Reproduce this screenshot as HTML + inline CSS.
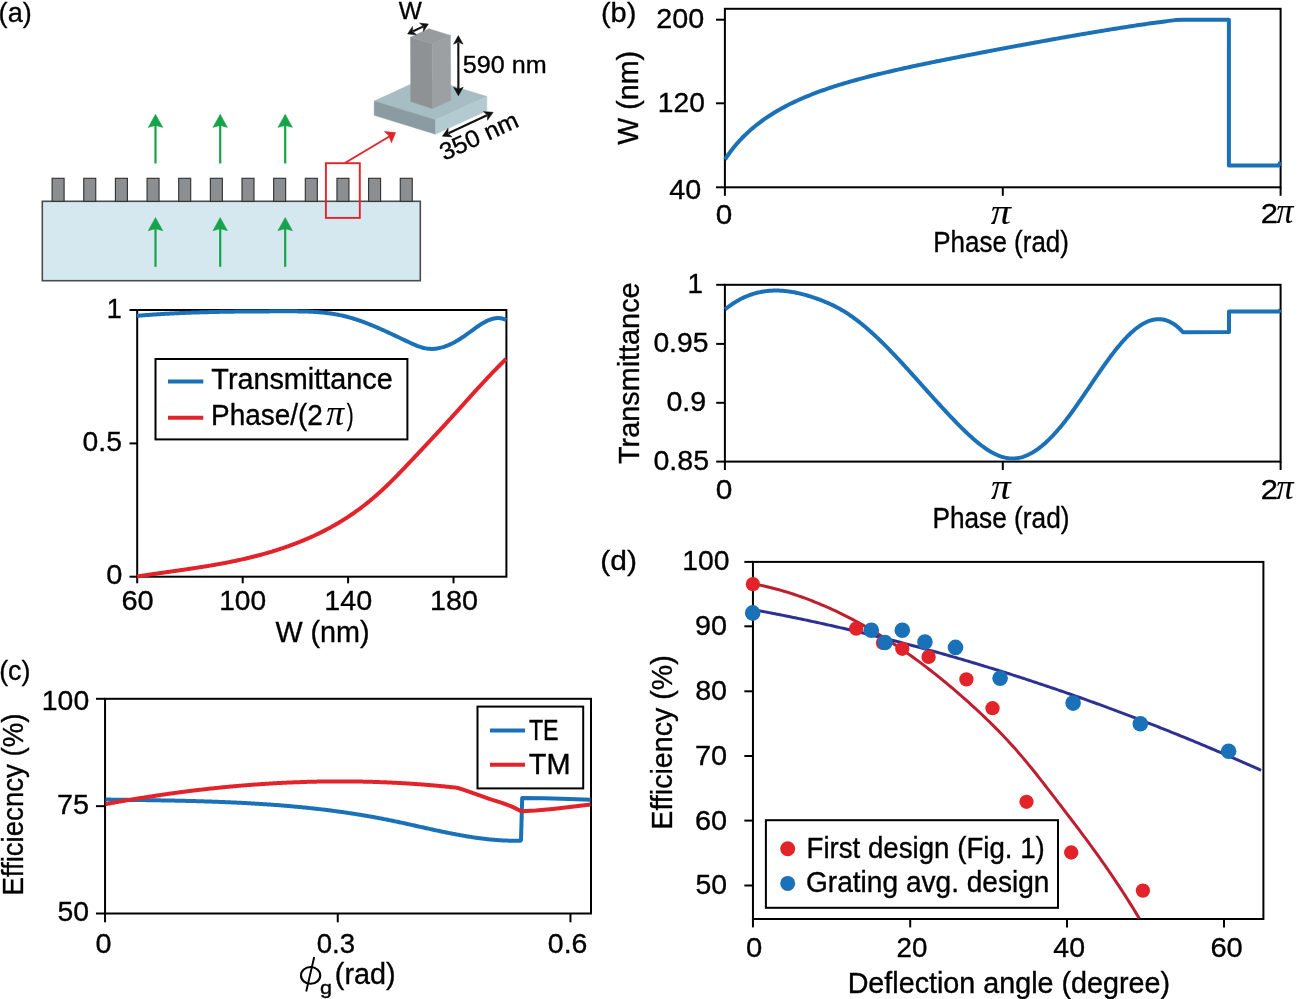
<!DOCTYPE html>
<html><head><meta charset="utf-8"><style>
html,body{margin:0;padding:0;background:#fff;}
svg{display:block;}
text{font-family:"Liberation Sans", sans-serif;stroke:#000;stroke-width:0.35px;}
svg{will-change:transform;}
</style></head><body>
<svg width="1298" height="999" viewBox="0 0 1298 999">
<rect width="1298" height="999" fill="#fff"/>
<text x="-1.38" y="22.20" font-size="28.5" textLength="33.06" lengthAdjust="spacingAndGlyphs" fill="#000">(a)</text>
<text x="600.90" y="22.00" font-size="28.5" textLength="35.40" lengthAdjust="spacingAndGlyphs" fill="#000">(b)</text>
<text x="-0.87" y="680.10" font-size="28.5" textLength="31.33" lengthAdjust="spacingAndGlyphs" fill="#000">(c)</text>
<text x="600.34" y="569.70" font-size="28.5" textLength="36.62" lengthAdjust="spacingAndGlyphs" fill="#000">(d)</text>
<rect x="42.3" y="201.3" width="378" height="79.4" fill="#d5e8ef" stroke="#4a4d4f" stroke-width="1.6"/>
<rect x="52.10" y="178.3" width="12" height="23" fill="#8b8f92" stroke="#2d2f30" stroke-width="1.1"/>
<rect x="83.75" y="178.3" width="12" height="23" fill="#8b8f92" stroke="#2d2f30" stroke-width="1.1"/>
<rect x="115.40" y="178.3" width="12" height="23" fill="#8b8f92" stroke="#2d2f30" stroke-width="1.1"/>
<rect x="147.05" y="178.3" width="12" height="23" fill="#8b8f92" stroke="#2d2f30" stroke-width="1.1"/>
<rect x="178.70" y="178.3" width="12" height="23" fill="#8b8f92" stroke="#2d2f30" stroke-width="1.1"/>
<rect x="210.35" y="178.3" width="12" height="23" fill="#8b8f92" stroke="#2d2f30" stroke-width="1.1"/>
<rect x="242.00" y="178.3" width="12" height="23" fill="#8b8f92" stroke="#2d2f30" stroke-width="1.1"/>
<rect x="273.65" y="178.3" width="12" height="23" fill="#8b8f92" stroke="#2d2f30" stroke-width="1.1"/>
<rect x="305.30" y="178.3" width="12" height="23" fill="#8b8f92" stroke="#2d2f30" stroke-width="1.1"/>
<rect x="336.95" y="178.3" width="12" height="23" fill="#8b8f92" stroke="#2d2f30" stroke-width="1.1"/>
<rect x="368.60" y="178.3" width="12" height="23" fill="#8b8f92" stroke="#2d2f30" stroke-width="1.1"/>
<rect x="400.25" y="178.3" width="12" height="23" fill="#8b8f92" stroke="#2d2f30" stroke-width="1.1"/>
<line x1="155.5" y1="122.2" x2="155.5" y2="163.5" stroke="#17a34a" stroke-width="2.2" stroke-linecap="butt"/>
<polygon points="155.50,114.20 162.80,127.40 155.50,125.40 148.20,127.40" fill="#17a34a" stroke="#17a34a" stroke-width="0.5" stroke-linejoin="round"/>
<line x1="155.5" y1="225.5" x2="155.5" y2="266.8" stroke="#17a34a" stroke-width="2.2" stroke-linecap="butt"/>
<polygon points="155.50,217.50 162.80,230.70 155.50,228.70 148.20,230.70" fill="#17a34a" stroke="#17a34a" stroke-width="0.5" stroke-linejoin="round"/>
<line x1="220.2" y1="122.2" x2="220.2" y2="163.5" stroke="#17a34a" stroke-width="2.2" stroke-linecap="butt"/>
<polygon points="220.20,114.20 227.50,127.40 220.20,125.40 212.90,127.40" fill="#17a34a" stroke="#17a34a" stroke-width="0.5" stroke-linejoin="round"/>
<line x1="220.2" y1="225.5" x2="220.2" y2="266.8" stroke="#17a34a" stroke-width="2.2" stroke-linecap="butt"/>
<polygon points="220.20,217.50 227.50,230.70 220.20,228.70 212.90,230.70" fill="#17a34a" stroke="#17a34a" stroke-width="0.5" stroke-linejoin="round"/>
<line x1="285.2" y1="122.2" x2="285.2" y2="163.5" stroke="#17a34a" stroke-width="2.2" stroke-linecap="butt"/>
<polygon points="285.20,114.20 292.50,127.40 285.20,125.40 277.90,127.40" fill="#17a34a" stroke="#17a34a" stroke-width="0.5" stroke-linejoin="round"/>
<line x1="285.2" y1="225.5" x2="285.2" y2="266.8" stroke="#17a34a" stroke-width="2.2" stroke-linecap="butt"/>
<polygon points="285.20,217.50 292.50,230.70 285.20,228.70 277.90,230.70" fill="#17a34a" stroke="#17a34a" stroke-width="0.5" stroke-linejoin="round"/>
<rect x="325.9" y="163.2" width="33.9" height="54.7" fill="none" stroke="#e2232a" stroke-width="1.9"/>
<line x1="344.9" y1="163.0" x2="391.0" y2="135.5" stroke="#e2232a" stroke-width="1.9" stroke-linecap="butt"/>
<polygon points="395.60,132.60 384.30,131.40 388.60,135.40 391.50,142.80" fill="#e2232a" stroke="#e2232a" stroke-width="0.5" stroke-linejoin="round"/>
<polygon points="374.20,101.10 425.50,77.50 486.90,96.50 435.60,120.10" fill="#a7bdc4" stroke="#a7bdc4" stroke-width="0.5" stroke-linejoin="round"/>
<polygon points="374.20,101.10 435.60,120.10 435.60,134.30 374.20,115.30" fill="#8a9ca1" stroke="#8a9ca1" stroke-width="0.5" stroke-linejoin="round"/>
<polygon points="435.60,120.10 486.90,96.50 486.90,110.70 435.60,134.30" fill="#b4cad1" stroke="#b4cad1" stroke-width="0.5" stroke-linejoin="round"/>
<polygon points="410.50,37.30 432.20,43.70 432.40,108.60 410.80,101.60" fill="#8f9294" stroke="#8f9294" stroke-width="0.5" stroke-linejoin="round"/>
<polygon points="432.20,43.70 450.40,35.40 450.80,100.20 432.40,108.60" fill="#9ca0a3" stroke="#9ca0a3" stroke-width="0.5" stroke-linejoin="round"/>
<polygon points="410.50,37.30 428.70,28.70 450.40,35.40 432.20,43.70" fill="#989b9e" stroke="#989b9e" stroke-width="0.5" stroke-linejoin="round"/>
<line x1="458.31" y1="42.48" x2="458.39" y2="88.92" stroke="#111" stroke-width="2.1" stroke-linecap="butt"/>
<polygon points="458.30,35.60 453.51,44.21 458.31,42.05 463.11,44.19" fill="#111" stroke="#111" stroke-width="0.5" stroke-linejoin="round"/>
<polygon points="458.40,95.80 453.59,87.21 458.39,89.35 463.19,87.19" fill="#111" stroke="#111" stroke-width="0.5" stroke-linejoin="round"/>
<line x1="413.09" y1="31.29" x2="422.91" y2="26.61" stroke="#111" stroke-width="2.1" stroke-linecap="butt"/>
<polygon points="407.60,33.90 416.44,34.79 412.75,31.45 412.49,26.48" fill="#111" stroke="#111" stroke-width="0.5" stroke-linejoin="round"/>
<polygon points="428.40,24.00 423.51,31.42 423.25,26.45 419.56,23.11" fill="#111" stroke="#111" stroke-width="0.5" stroke-linejoin="round"/>
<line x1="448.53" y1="133.28" x2="486.97" y2="115.22" stroke="#111" stroke-width="2.1" stroke-linecap="butt"/>
<polygon points="442.30,136.20 452.12,136.89 448.14,133.46 448.04,128.20" fill="#111" stroke="#111" stroke-width="0.5" stroke-linejoin="round"/>
<polygon points="493.20,112.30 487.46,120.30 487.36,115.04 483.38,111.61" fill="#111" stroke="#111" stroke-width="0.5" stroke-linejoin="round"/>
<text x="398.80" y="18.90" font-size="24.7" textLength="23.07" lengthAdjust="spacingAndGlyphs" fill="#000">W</text>
<text x="462.89" y="72.70" font-size="24.2" textLength="83.85" lengthAdjust="spacingAndGlyphs" fill="#000">590 nm</text>
<text transform="translate(445.00,160.60) rotate(-24.6)" x="-0.95" y="0" font-size="24.2" textLength="83.80" lengthAdjust="spacingAndGlyphs" fill="#000">350 nm</text>
<rect x="137.2" y="310.0" width="369.2" height="266.70000000000005" fill="none" stroke="#000" stroke-width="2"/>
<line x1="129.5" y1="310.0" x2="137.2" y2="310.0" stroke="#000" stroke-width="2" stroke-linecap="butt"/>
<line x1="129.5" y1="443.4" x2="137.2" y2="443.4" stroke="#000" stroke-width="2" stroke-linecap="butt"/>
<line x1="129.5" y1="576.7" x2="137.2" y2="576.7" stroke="#000" stroke-width="2" stroke-linecap="butt"/>
<line x1="137.2" y1="576.7" x2="137.2" y2="583.3000000000001" stroke="#000" stroke-width="2" stroke-linecap="butt"/>
<line x1="242.7" y1="576.7" x2="242.7" y2="583.3000000000001" stroke="#000" stroke-width="2" stroke-linecap="butt"/>
<line x1="348.1" y1="576.7" x2="348.1" y2="583.3000000000001" stroke="#000" stroke-width="2" stroke-linecap="butt"/>
<line x1="453.5" y1="576.7" x2="453.5" y2="583.3000000000001" stroke="#000" stroke-width="2" stroke-linecap="butt"/>
<path d="M137.00,315.81 L138.00,315.73 L139.00,315.65 L140.00,315.56 L141.00,315.48 L142.00,315.40 L143.00,315.33 L144.00,315.25 L145.00,315.17 L146.00,315.10 L147.00,315.02 L148.00,314.95 L149.00,314.88 L150.00,314.81 L151.00,314.74 L152.00,314.67 L153.00,314.60 L154.00,314.53 L155.00,314.47 L156.00,314.40 L157.00,314.34 L158.00,314.27 L159.00,314.21 L160.00,314.15 L161.00,314.09 L162.00,314.03 L163.00,313.97 L164.00,313.91 L165.00,313.86 L166.00,313.80 L167.00,313.74 L168.00,313.69 L169.00,313.64 L170.00,313.58 L171.00,313.53 L172.00,313.48 L173.00,313.43 L174.00,313.38 L175.00,313.33 L176.00,313.28 L177.00,313.24 L178.00,313.19 L179.00,313.14 L180.00,313.10 L181.00,313.05 L182.00,313.01 L183.00,312.97 L184.00,312.93 L185.00,312.89 L186.00,312.85 L187.00,312.81 L188.00,312.77 L189.00,312.73 L190.00,312.69 L191.00,312.65 L192.00,312.62 L193.00,312.58 L194.00,312.55 L195.00,312.51 L196.00,312.48 L197.00,312.45 L198.00,312.42 L199.00,312.38 L200.00,312.35 L201.00,312.32 L202.00,312.29 L203.00,312.27 L204.00,312.24 L205.00,312.21 L206.00,312.18 L207.00,312.16 L208.00,312.13 L209.00,312.10 L210.00,312.08 L211.00,312.05 L212.00,312.03 L213.00,312.01 L214.00,311.99 L215.00,311.96 L216.00,311.94 L217.00,311.92 L218.00,311.90 L219.00,311.88 L220.00,311.86 L221.00,311.84 L222.00,311.82 L223.00,311.81 L224.00,311.79 L225.00,311.77 L226.00,311.75 L227.00,311.74 L228.00,311.72 L229.00,311.71 L230.00,311.69 L231.00,311.68 L232.00,311.66 L233.00,311.65 L234.00,311.64 L235.00,311.62 L236.00,311.61 L237.00,311.60 L238.00,311.59 L239.00,311.58 L240.00,311.57 L241.00,311.56 L242.00,311.55 L243.00,311.54 L244.00,311.53 L245.00,311.52 L246.00,311.51 L247.00,311.50 L248.00,311.49 L249.00,311.48 L250.00,311.48 L251.00,311.47 L252.00,311.46 L253.00,311.45 L254.00,311.45 L255.00,311.44 L256.00,311.44 L257.00,311.43 L258.00,311.42 L259.00,311.42 L260.00,311.41 L261.00,311.41 L262.00,311.40 L263.00,311.40 L264.00,311.40 L265.00,311.39 L266.00,311.39 L267.00,311.38 L268.00,311.38 L269.00,311.38 L270.00,311.37 L271.00,311.37 L272.00,311.37 L273.00,311.37 L274.00,311.36 L275.00,311.36 L276.00,311.36 L277.00,311.36 L278.00,311.35 L279.00,311.35 L280.00,311.35 L281.00,311.35 L282.00,311.35 L283.00,311.35 L284.00,311.34 L285.00,311.34 L286.00,311.34 L287.00,311.34 L288.00,311.34 L289.00,311.34 L290.00,311.34 L291.00,311.34 L292.00,311.34 L293.00,311.35 L294.00,311.35 L295.00,311.36 L296.00,311.37 L297.00,311.37 L298.00,311.39 L299.00,311.40 L300.00,311.41 L301.00,311.43 L302.00,311.45 L303.00,311.47 L304.00,311.49 L305.00,311.52 L306.00,311.55 L307.00,311.58 L308.00,311.62 L309.00,311.66 L310.00,311.70 L311.00,311.74 L312.00,311.79 L313.00,311.85 L314.00,311.90 L315.00,311.96 L316.00,312.03 L317.00,312.10 L318.00,312.17 L319.00,312.25 L320.00,312.33 L321.00,312.42 L322.00,312.51 L323.00,312.61 L324.00,312.71 L325.00,312.82 L326.00,312.93 L327.00,313.05 L328.00,313.17 L329.00,313.30 L330.00,313.44 L331.00,313.58 L332.00,313.72 L333.00,313.88 L334.00,314.04 L335.00,314.21 L336.00,314.38 L337.00,314.56 L338.00,314.75 L339.00,314.94 L340.00,315.15 L341.00,315.35 L342.00,315.57 L343.00,315.80 L344.00,316.03 L345.00,316.27 L346.00,316.52 L347.00,316.77 L348.00,317.04 L349.00,317.31 L350.00,317.59 L351.00,317.87 L352.00,318.17 L353.00,318.47 L354.00,318.78 L355.00,319.09 L356.00,319.41 L357.00,319.74 L358.00,320.08 L359.00,320.42 L360.00,320.76 L361.00,321.12 L362.00,321.47 L363.00,321.84 L364.00,322.21 L365.00,322.58 L366.00,322.96 L367.00,323.35 L368.00,323.74 L369.00,324.14 L370.00,324.54 L371.00,324.94 L372.00,325.35 L373.00,325.76 L374.00,326.18 L375.00,326.60 L376.00,327.03 L377.00,327.46 L378.00,327.89 L379.00,328.32 L380.00,328.76 L381.00,329.21 L382.00,329.65 L383.00,330.10 L384.00,330.55 L385.00,331.00 L386.00,331.46 L387.00,331.92 L388.00,332.38 L389.00,332.84 L390.00,333.30 L391.00,333.77 L392.00,334.24 L393.00,334.70 L394.00,335.17 L395.00,335.65 L396.00,336.12 L397.00,336.59 L398.00,337.06 L399.00,337.54 L400.00,338.01 L401.00,338.49 L402.00,338.96 L403.00,339.44 L404.00,339.91 L405.00,340.39 L406.00,340.86 L407.00,341.33 L408.00,341.80 L409.00,342.27 L410.00,342.74 L411.00,343.20 L412.00,343.66 L413.00,344.10 L414.00,344.54 L415.00,344.96 L416.00,345.37 L417.00,345.77 L418.00,346.14 L419.00,346.51 L420.00,346.85 L421.00,347.17 L422.00,347.47 L423.00,347.74 L424.00,347.99 L425.00,348.21 L426.00,348.40 L427.00,348.57 L428.00,348.70 L429.00,348.80 L430.00,348.86 L431.00,348.90 L432.00,348.90 L433.00,348.88 L434.00,348.83 L435.00,348.75 L436.00,348.64 L437.00,348.50 L438.00,348.33 L439.00,348.14 L440.00,347.92 L441.00,347.68 L442.00,347.41 L443.00,347.12 L444.00,346.80 L445.00,346.47 L446.00,346.10 L447.00,345.72 L448.00,345.31 L449.00,344.89 L450.00,344.44 L451.00,343.97 L452.00,343.48 L453.00,342.98 L454.00,342.45 L455.00,341.91 L456.00,341.35 L457.00,340.77 L458.00,340.18 L459.00,339.57 L460.00,338.94 L461.00,338.30 L462.00,337.65 L463.00,336.98 L464.00,336.31 L465.00,335.61 L466.00,334.91 L467.00,334.20 L468.00,333.47 L469.00,332.75 L470.00,332.01 L471.00,331.28 L472.00,330.55 L473.00,329.82 L474.00,329.09 L475.00,328.37 L476.00,327.65 L477.00,326.95 L478.00,326.26 L479.00,325.58 L480.00,324.92 L481.00,324.28 L482.00,323.66 L483.00,323.06 L484.00,322.48 L485.00,321.93 L486.00,321.41 L487.00,320.92 L488.00,320.46 L489.00,320.03 L490.00,319.64 L491.00,319.29 L492.00,318.98 L493.00,318.71 L494.00,318.49 L495.00,318.31 L496.00,318.18 L497.00,318.10 L498.00,318.07 L499.00,318.10 L500.00,318.18 L501.00,318.33 L502.00,318.53 L503.00,318.79 L504.00,319.12 L505.00,319.51 L506.00,319.98 L506.30,320.13" fill="none" stroke="#1a71b8" stroke-width="4.0" stroke-linejoin="round" stroke-linecap="butt"/>
<path d="M137.00,576.46 L138.00,576.31 L139.00,576.16 L140.00,576.01 L141.00,575.86 L142.00,575.70 L143.00,575.55 L144.00,575.41 L145.00,575.26 L146.00,575.11 L147.00,574.96 L148.00,574.82 L149.00,574.67 L150.00,574.52 L151.00,574.38 L152.00,574.23 L153.00,574.09 L154.00,573.95 L155.00,573.80 L156.00,573.66 L157.00,573.52 L158.00,573.37 L159.00,573.23 L160.00,573.09 L161.00,572.95 L162.00,572.80 L163.00,572.66 L164.00,572.52 L165.00,572.38 L166.00,572.24 L167.00,572.10 L168.00,571.95 L169.00,571.81 L170.00,571.67 L171.00,571.53 L172.00,571.39 L173.00,571.25 L174.00,571.10 L175.00,570.96 L176.00,570.82 L177.00,570.68 L178.00,570.53 L179.00,570.39 L180.00,570.24 L181.00,570.10 L182.00,569.96 L183.00,569.81 L184.00,569.66 L185.00,569.52 L186.00,569.37 L187.00,569.22 L188.00,569.08 L189.00,568.93 L190.00,568.78 L191.00,568.63 L192.00,568.48 L193.00,568.33 L194.00,568.17 L195.00,568.02 L196.00,567.87 L197.00,567.71 L198.00,567.56 L199.00,567.40 L200.00,567.24 L201.00,567.09 L202.00,566.93 L203.00,566.77 L204.00,566.60 L205.00,566.44 L206.00,566.28 L207.00,566.11 L208.00,565.95 L209.00,565.78 L210.00,565.61 L211.00,565.44 L212.00,565.27 L213.00,565.10 L214.00,564.93 L215.00,564.75 L216.00,564.57 L217.00,564.40 L218.00,564.22 L219.00,564.04 L220.00,563.85 L221.00,563.67 L222.00,563.48 L223.00,563.30 L224.00,563.11 L225.00,562.92 L226.00,562.73 L227.00,562.53 L228.00,562.34 L229.00,562.14 L230.00,561.94 L231.00,561.74 L232.00,561.54 L233.00,561.33 L234.00,561.12 L235.00,560.92 L236.00,560.71 L237.00,560.49 L238.00,560.28 L239.00,560.06 L240.00,559.84 L241.00,559.62 L242.00,559.40 L243.00,559.17 L244.00,558.94 L245.00,558.71 L246.00,558.48 L247.00,558.25 L248.00,558.01 L249.00,557.77 L250.00,557.53 L251.00,557.29 L252.00,557.04 L253.00,556.79 L254.00,556.54 L255.00,556.29 L256.00,556.03 L257.00,555.77 L258.00,555.51 L259.00,555.24 L260.00,554.98 L261.00,554.71 L262.00,554.43 L263.00,554.16 L264.00,553.88 L265.00,553.60 L266.00,553.32 L267.00,553.03 L268.00,552.74 L269.00,552.45 L270.00,552.15 L271.00,551.85 L272.00,551.55 L273.00,551.25 L274.00,550.94 L275.00,550.63 L276.00,550.31 L277.00,550.00 L278.00,549.68 L279.00,549.35 L280.00,549.02 L281.00,548.69 L282.00,548.36 L283.00,548.02 L284.00,547.68 L285.00,547.34 L286.00,546.99 L287.00,546.64 L288.00,546.29 L289.00,545.93 L290.00,545.57 L291.00,545.20 L292.00,544.84 L293.00,544.46 L294.00,544.09 L295.00,543.71 L296.00,543.32 L297.00,542.94 L298.00,542.55 L299.00,542.15 L300.00,541.75 L301.00,541.35 L302.00,540.95 L303.00,540.54 L304.00,540.12 L305.00,539.70 L306.00,539.28 L307.00,538.85 L308.00,538.42 L309.00,537.99 L310.00,537.55 L311.00,537.10 L312.00,536.65 L313.00,536.20 L314.00,535.74 L315.00,535.28 L316.00,534.81 L317.00,534.34 L318.00,533.86 L319.00,533.37 L320.00,532.89 L321.00,532.39 L322.00,531.90 L323.00,531.39 L324.00,530.88 L325.00,530.37 L326.00,529.85 L327.00,529.33 L328.00,528.79 L329.00,528.26 L330.00,527.72 L331.00,527.17 L332.00,526.62 L333.00,526.06 L334.00,525.49 L335.00,524.92 L336.00,524.34 L337.00,523.76 L338.00,523.17 L339.00,522.58 L340.00,521.97 L341.00,521.37 L342.00,520.75 L343.00,520.13 L344.00,519.50 L345.00,518.87 L346.00,518.23 L347.00,517.58 L348.00,516.93 L349.00,516.27 L350.00,515.60 L351.00,514.92 L352.00,514.24 L353.00,513.55 L354.00,512.86 L355.00,512.15 L356.00,511.44 L357.00,510.72 L358.00,510.00 L359.00,509.27 L360.00,508.53 L361.00,507.78 L362.00,507.02 L363.00,506.26 L364.00,505.49 L365.00,504.71 L366.00,503.92 L367.00,503.13 L368.00,502.33 L369.00,501.52 L370.00,500.70 L371.00,499.87 L372.00,499.04 L373.00,498.19 L374.00,497.34 L375.00,496.48 L376.00,495.62 L377.00,494.74 L378.00,493.85 L379.00,492.96 L380.00,492.06 L381.00,491.14 L382.00,490.22 L383.00,489.30 L384.00,488.36 L385.00,487.41 L386.00,486.46 L387.00,485.50 L388.00,484.54 L389.00,483.56 L390.00,482.58 L391.00,481.60 L392.00,480.61 L393.00,479.61 L394.00,478.60 L395.00,477.60 L396.00,476.58 L397.00,475.56 L398.00,474.54 L399.00,473.51 L400.00,472.48 L401.00,471.45 L402.00,470.41 L403.00,469.37 L404.00,468.32 L405.00,467.27 L406.00,466.22 L407.00,465.17 L408.00,464.11 L409.00,463.06 L410.00,462.00 L411.00,460.94 L412.00,459.88 L413.00,458.82 L414.00,457.76 L415.00,456.69 L416.00,455.63 L417.00,454.57 L418.00,453.51 L419.00,452.45 L420.00,451.39 L421.00,450.32 L422.00,449.26 L423.00,448.20 L424.00,447.14 L425.00,446.07 L426.00,445.01 L427.00,443.95 L428.00,442.88 L429.00,441.82 L430.00,440.75 L431.00,439.68 L432.00,438.62 L433.00,437.55 L434.00,436.48 L435.00,435.41 L436.00,434.33 L437.00,433.26 L438.00,432.18 L439.00,431.10 L440.00,430.02 L441.00,428.94 L442.00,427.86 L443.00,426.78 L444.00,425.69 L445.00,424.60 L446.00,423.51 L447.00,422.42 L448.00,421.32 L449.00,420.22 L450.00,419.12 L451.00,418.02 L452.00,416.92 L453.00,415.81 L454.00,414.71 L455.00,413.60 L456.00,412.49 L457.00,411.38 L458.00,410.28 L459.00,409.17 L460.00,408.05 L461.00,406.94 L462.00,405.83 L463.00,404.72 L464.00,403.61 L465.00,402.50 L466.00,401.39 L467.00,400.28 L468.00,399.17 L469.00,398.07 L470.00,396.96 L471.00,395.85 L472.00,394.75 L473.00,393.65 L474.00,392.55 L475.00,391.45 L476.00,390.35 L477.00,389.26 L478.00,388.16 L479.00,387.07 L480.00,385.98 L481.00,384.90 L482.00,383.82 L483.00,382.74 L484.00,381.66 L485.00,380.59 L486.00,379.52 L487.00,378.45 L488.00,377.39 L489.00,376.33 L490.00,375.27 L491.00,374.22 L492.00,373.18 L493.00,372.13 L494.00,371.10 L495.00,370.06 L496.00,369.04 L497.00,368.01 L498.00,367.00 L499.00,365.98 L500.00,364.98 L501.00,363.97 L502.00,362.98 L503.00,361.99 L504.00,361.00 L505.00,360.03 L506.00,359.05" fill="none" stroke="#e2232a" stroke-width="4.0" stroke-linejoin="round" stroke-linecap="butt"/>
<text x="106.84" y="317.70" font-size="28.4" textLength="15.06" lengthAdjust="spacingAndGlyphs" fill="#000">1</text>
<text x="82.60" y="451.00" font-size="28.4" textLength="39.37" lengthAdjust="spacingAndGlyphs" fill="#000">0.5</text>
<text x="106.27" y="584.20" font-size="28.4" textLength="16.14" lengthAdjust="spacingAndGlyphs" fill="#000">0</text>
<text x="121.45" y="610.20" font-size="28.4" textLength="32.26" lengthAdjust="spacingAndGlyphs" fill="#000">60</text>
<text x="219.16" y="610.20" font-size="28.4" textLength="46.92" lengthAdjust="spacingAndGlyphs" fill="#000">100</text>
<text x="324.21" y="610.20" font-size="28.4" textLength="47.99" lengthAdjust="spacingAndGlyphs" fill="#000">140</text>
<text x="430.01" y="610.10" font-size="28.4" textLength="47.99" lengthAdjust="spacingAndGlyphs" fill="#000">180</text>
<text x="275.38" y="642.40" font-size="28.8" textLength="94.30" lengthAdjust="spacingAndGlyphs" fill="#000">W (nm)</text>
<rect x="155.5" y="359.0" width="251.9" height="80.4" fill="#fff" stroke="#000" stroke-width="2"/>
<line x1="168" y1="381.5" x2="203.3" y2="381.5" stroke="#1a71b8" stroke-width="4.0" stroke-linecap="butt"/>
<line x1="168" y1="417.7" x2="203.3" y2="417.7" stroke="#e2232a" stroke-width="4.0" stroke-linecap="butt"/>
<text x="211.37" y="388.50" font-size="28.8" textLength="181.31" lengthAdjust="spacingAndGlyphs" fill="#000">Transmittance</text>
<text x="211.11" y="424.60" font-size="28.8" textLength="111.80" lengthAdjust="spacingAndGlyphs" fill="#000">Phase/(2</text>
<text x="326.22" y="424.90" font-size="35.4" textLength="17.86" lengthAdjust="spacingAndGlyphs" font-style="italic" style="font-family:&quot;Liberation Serif&quot;,serif;stroke-width:0.1px" fill="#000">π</text>
<text x="346.70" y="424.60" font-size="28.8" textLength="6.89" lengthAdjust="spacingAndGlyphs" fill="#000">)</text>
<rect x="724.9" y="8.8" width="555.6999999999999" height="178.5" fill="none" stroke="#000" stroke-width="2"/>
<line x1="716.0" y1="19.7" x2="724.9" y2="19.7" stroke="#000" stroke-width="2" stroke-linecap="butt"/>
<line x1="716.0" y1="103.3" x2="724.9" y2="103.3" stroke="#000" stroke-width="2" stroke-linecap="butt"/>
<line x1="716.0" y1="187.3" x2="724.9" y2="187.3" stroke="#000" stroke-width="2" stroke-linecap="butt"/>
<line x1="724.9" y1="187.3" x2="724.9" y2="195.8" stroke="#000" stroke-width="2" stroke-linecap="butt"/>
<line x1="1002.8" y1="187.3" x2="1002.8" y2="195.8" stroke="#000" stroke-width="2" stroke-linecap="butt"/>
<line x1="1280.6" y1="187.3" x2="1280.6" y2="195.8" stroke="#000" stroke-width="2" stroke-linecap="butt"/>
<path d="M725.10,159.46 L725.60,158.68 L726.10,157.91 L726.60,157.15 L727.10,156.40 L727.60,155.66 L728.10,154.94 L728.60,154.23 L729.10,153.52 L729.60,152.83 L730.10,152.14 L730.60,151.47 L731.10,150.80 L731.60,150.15 L732.10,149.50 L732.60,148.86 L733.10,148.22 L733.60,147.60 L734.10,146.98 L734.60,146.37 L735.10,145.77 L735.60,145.17 L736.10,144.59 L736.60,144.00 L737.10,143.43 L737.60,142.86 L738.10,142.30 L738.60,141.74 L739.10,141.19 L739.60,140.65 L740.10,140.11 L740.60,139.57 L741.10,139.05 L741.60,138.52 L742.10,138.01 L742.60,137.50 L743.10,136.99 L743.60,136.49 L744.10,135.99 L744.60,135.50 L745.00,135.11 L747.00,133.20 L749.00,131.37 L751.00,129.59 L753.00,127.88 L755.00,126.23 L757.00,124.63 L759.00,123.08 L761.00,121.58 L763.00,120.13 L765.00,118.72 L767.00,117.35 L769.00,116.02 L771.00,114.73 L773.00,113.48 L775.00,112.26 L777.00,111.07 L779.00,109.91 L781.00,108.78 L783.00,107.69 L785.00,106.62 L787.00,105.57 L789.00,104.55 L791.00,103.56 L793.00,102.58 L795.00,101.63 L797.00,100.70 L799.00,99.80 L801.00,98.91 L803.00,98.04 L805.00,97.19 L807.00,96.36 L809.00,95.54 L811.00,94.74 L813.00,93.95 L815.00,93.19 L817.00,92.43 L819.00,91.69 L821.00,90.96 L823.00,90.25 L825.00,89.55 L827.00,88.86 L829.00,88.18 L831.00,87.52 L833.00,86.86 L835.00,86.22 L837.00,85.58 L839.00,84.96 L841.00,84.34 L843.00,83.74 L845.00,83.14 L847.00,82.55 L849.00,81.97 L851.00,81.39 L853.00,80.83 L855.00,80.27 L857.00,79.72 L859.00,79.18 L861.00,78.64 L863.00,78.11 L865.00,77.58 L867.00,77.06 L869.00,76.55 L871.00,76.04 L873.00,75.54 L875.00,75.04 L877.00,74.54 L879.00,74.06 L881.00,73.57 L883.00,73.09 L885.00,72.62 L887.00,72.15 L889.00,71.68 L891.00,71.22 L893.00,70.76 L895.00,70.30 L897.00,69.85 L899.00,69.40 L901.00,68.95 L903.00,68.51 L905.00,68.07 L907.00,67.63 L909.00,67.19 L911.00,66.76 L913.00,66.33 L915.00,65.90 L917.00,65.48 L919.00,65.06 L921.00,64.63 L923.00,64.22 L925.00,63.80 L927.00,63.38 L929.00,62.97 L931.00,62.56 L933.00,62.15 L935.00,61.74 L937.00,61.33 L939.00,60.93 L941.00,60.53 L943.00,60.12 L945.00,59.72 L947.00,59.32 L949.00,58.92 L951.00,58.53 L953.00,58.13 L955.00,57.74 L957.00,57.34 L959.00,56.95 L961.00,56.56 L963.00,56.17 L965.00,55.78 L967.00,55.39 L969.00,55.00 L971.00,54.61 L973.00,54.23 L975.00,53.84 L977.00,53.46 L979.00,53.07 L981.00,52.69 L983.00,52.31 L985.00,51.92 L987.00,51.54 L989.00,51.16 L991.00,50.78 L993.00,50.40 L995.00,50.02 L997.00,49.65 L999.00,49.27 L1001.00,48.89 L1003.00,48.52 L1005.00,48.14 L1007.00,47.77 L1009.00,47.39 L1011.00,47.02 L1013.00,46.65 L1015.00,46.27 L1017.00,45.90 L1019.00,45.53 L1021.00,45.16 L1023.00,44.79 L1025.00,44.42 L1027.00,44.05 L1029.00,43.69 L1031.00,43.32 L1033.00,42.95 L1035.00,42.59 L1037.00,42.22 L1039.00,41.86 L1041.00,41.49 L1043.00,41.13 L1045.00,40.77 L1047.00,40.41 L1049.00,40.05 L1051.00,39.69 L1053.00,39.33 L1055.00,38.97 L1057.00,38.61 L1059.00,38.26 L1061.00,37.90 L1063.00,37.55 L1065.00,37.19 L1067.00,36.84 L1069.00,36.49 L1071.00,36.14 L1073.00,35.79 L1075.00,35.44 L1077.00,35.09 L1079.00,34.75 L1081.00,34.40 L1083.00,34.06 L1085.00,33.72 L1087.00,33.38 L1089.00,33.04 L1091.00,32.70 L1093.00,32.36 L1095.00,32.02 L1097.00,31.69 L1099.00,31.36 L1101.00,31.02 L1103.00,30.69 L1105.00,30.37 L1107.00,30.04 L1109.00,29.71 L1111.00,29.39 L1113.00,29.07 L1115.00,28.75 L1117.00,28.43 L1119.00,28.11 L1121.00,27.80 L1123.00,27.48 L1125.00,27.17 L1127.00,26.86 L1129.00,26.55 L1131.00,26.25 L1133.00,25.94 L1135.00,25.64 L1137.00,25.34 L1139.00,25.05 L1141.00,24.75 L1143.00,24.46 L1145.00,24.17 L1147.00,23.88 L1149.00,23.59 L1151.00,23.31 L1153.00,23.03 L1155.00,22.75 L1157.00,22.47 L1159.00,22.20 L1161.00,21.93 L1163.00,21.66 L1165.00,21.40 L1167.00,21.13 L1169.00,20.87 L1171.00,20.62 L1173.00,20.36 L1175.00,20.11 L1182.7,19.8 L1228.9,19.8 L1228.9,165.5 L1278.4,165.5 L1280.6,162.2" fill="none" stroke="#1a71b8" stroke-width="4.0" stroke-linejoin="round" stroke-linecap="butt"/>
<text x="656.26" y="28.00" font-size="28.4" textLength="47.94" lengthAdjust="spacingAndGlyphs" fill="#000">200</text>
<text x="657.86" y="111.70" font-size="28.4" textLength="47.03" lengthAdjust="spacingAndGlyphs" fill="#000">120</text>
<text x="669.27" y="199.30" font-size="28.4" textLength="31.93" lengthAdjust="spacingAndGlyphs" fill="#000">40</text>
<text x="715.84" y="223.90" font-size="28.4" textLength="16.49" lengthAdjust="spacingAndGlyphs" fill="#000">0</text>
<text x="990.70" y="224.30" font-size="36.5" textLength="20.17" lengthAdjust="spacingAndGlyphs" font-style="italic" style="font-family:&quot;Liberation Serif&quot;,serif;stroke-width:0.1px" fill="#000">π</text>
<text x="1260.85" y="223.10" font-size="28.4" textLength="17.20" lengthAdjust="spacingAndGlyphs" fill="#000">2</text>
<text x="1276.33" y="223.30" font-size="36.5" textLength="17.09" lengthAdjust="spacingAndGlyphs" font-style="italic" style="font-family:&quot;Liberation Serif&quot;,serif;stroke-width:0.1px" fill="#000">π</text>
<text x="933.27" y="252.20" font-size="28.8" textLength="135.63" lengthAdjust="spacingAndGlyphs" fill="#000">Phase (rad)</text>
<text transform="translate(637.60,144.60) rotate(-90)" x="-0.11" y="0" font-size="28.8" textLength="93.68" lengthAdjust="spacingAndGlyphs" fill="#000">W (nm)</text>
<rect x="724.9" y="284.8" width="555.6999999999999" height="176.8" fill="none" stroke="#000" stroke-width="2"/>
<line x1="716.1999999999999" y1="284.8" x2="724.9" y2="284.8" stroke="#000" stroke-width="2" stroke-linecap="butt"/>
<line x1="716.1999999999999" y1="343.9" x2="724.9" y2="343.9" stroke="#000" stroke-width="2" stroke-linecap="butt"/>
<line x1="716.1999999999999" y1="402.8" x2="724.9" y2="402.8" stroke="#000" stroke-width="2" stroke-linecap="butt"/>
<line x1="716.1999999999999" y1="461.6" x2="724.9" y2="461.6" stroke="#000" stroke-width="2" stroke-linecap="butt"/>
<line x1="724.9" y1="461.6" x2="724.9" y2="470.0" stroke="#000" stroke-width="2" stroke-linecap="butt"/>
<line x1="1002.8" y1="461.6" x2="1002.8" y2="470.0" stroke="#000" stroke-width="2" stroke-linecap="butt"/>
<line x1="1280.6" y1="461.6" x2="1280.6" y2="470.0" stroke="#000" stroke-width="2" stroke-linecap="butt"/>
<path d="M725.10,309.34 L726.10,308.54 L727.10,307.75 L728.10,306.99 L729.10,306.25 L730.10,305.53 L731.10,304.83 L732.10,304.15 L733.10,303.48 L734.10,302.84 L735.10,302.21 L736.10,301.60 L737.10,301.01 L738.10,300.44 L739.10,299.89 L740.10,299.35 L741.10,298.83 L742.10,298.33 L743.10,297.85 L744.10,297.38 L745.10,296.93 L746.10,296.50 L747.10,296.08 L748.10,295.68 L749.10,295.30 L750.10,294.93 L751.10,294.58 L752.10,294.25 L753.10,293.93 L754.10,293.63 L755.10,293.34 L756.10,293.06 L757.10,292.81 L758.10,292.56 L759.10,292.33 L760.10,292.12 L761.10,291.92 L762.10,291.73 L763.10,291.56 L764.10,291.41 L765.10,291.26 L766.10,291.13 L767.10,291.02 L768.10,290.91 L769.10,290.82 L770.10,290.74 L771.10,290.68 L772.10,290.63 L773.10,290.59 L774.10,290.56 L775.10,290.54 L776.10,290.54 L777.10,290.55 L778.10,290.57 L779.10,290.60 L780.10,290.64 L781.10,290.70 L782.10,290.76 L783.10,290.83 L784.10,290.92 L785.10,291.02 L786.10,291.12 L787.10,291.24 L788.10,291.37 L789.10,291.50 L790.10,291.65 L791.10,291.80 L792.10,291.97 L793.10,292.14 L794.10,292.33 L795.10,292.52 L796.10,292.72 L797.10,292.93 L798.10,293.15 L799.10,293.37 L800.10,293.61 L801.10,293.85 L802.10,294.10 L803.10,294.36 L804.10,294.63 L805.10,294.90 L806.10,295.19 L807.10,295.47 L808.10,295.77 L809.10,296.07 L810.10,296.39 L811.10,296.70 L812.10,297.03 L813.10,297.36 L814.10,297.70 L815.10,298.04 L816.10,298.39 L817.10,298.74 L818.10,299.11 L819.10,299.47 L820.10,299.85 L821.10,300.23 L822.10,300.62 L823.10,301.01 L824.10,301.42 L825.10,301.83 L826.10,302.24 L827.10,302.67 L828.10,303.10 L829.10,303.55 L830.10,304.00 L831.10,304.46 L832.10,304.93 L833.10,305.41 L834.10,305.90 L835.10,306.40 L836.10,306.91 L837.10,307.44 L838.10,307.97 L839.10,308.51 L840.10,309.07 L841.10,309.63 L842.10,310.21 L843.10,310.80 L844.10,311.41 L845.10,312.02 L846.10,312.65 L847.10,313.29 L848.10,313.95 L849.10,314.61 L850.10,315.29 L851.10,315.98 L852.10,316.68 L853.10,317.40 L854.10,318.12 L855.10,318.86 L856.10,319.61 L857.10,320.36 L858.10,321.13 L859.10,321.91 L860.10,322.70 L861.10,323.51 L862.10,324.32 L863.10,325.14 L864.10,325.97 L865.10,326.81 L866.10,327.66 L867.10,328.52 L868.10,329.39 L869.10,330.27 L870.10,331.15 L871.10,332.05 L872.10,332.95 L873.10,333.87 L874.10,334.79 L875.10,335.72 L876.10,336.65 L877.10,337.60 L878.10,338.55 L879.10,339.51 L880.10,340.47 L881.10,341.45 L882.10,342.43 L883.10,343.41 L884.10,344.41 L885.10,345.41 L886.10,346.41 L887.10,347.42 L888.10,348.44 L889.10,349.47 L890.10,350.49 L891.10,351.53 L892.10,352.57 L893.10,353.61 L894.10,354.66 L895.10,355.72 L896.10,356.78 L897.10,357.84 L898.10,358.91 L899.10,359.98 L900.10,361.05 L901.10,362.13 L902.10,363.21 L903.10,364.30 L904.10,365.39 L905.10,366.48 L906.10,367.57 L907.10,368.67 L908.10,369.77 L909.10,370.87 L910.10,371.98 L911.10,373.09 L912.10,374.19 L913.10,375.30 L914.10,376.42 L915.10,377.53 L916.10,378.64 L917.10,379.76 L918.10,380.87 L919.10,381.99 L920.10,383.11 L921.10,384.23 L922.10,385.34 L923.10,386.46 L924.10,387.58 L925.10,388.70 L926.10,389.82 L927.10,390.93 L928.10,392.05 L929.10,393.16 L930.10,394.28 L931.10,395.39 L932.10,396.50 L933.10,397.61 L934.10,398.72 L935.10,399.82 L936.10,400.92 L937.10,402.03 L938.10,403.12 L939.10,404.22 L940.10,405.31 L941.10,406.40 L942.10,407.49 L943.10,408.57 L944.10,409.65 L945.10,410.73 L946.10,411.80 L947.10,412.87 L948.10,413.94 L949.10,415.00 L950.10,416.06 L951.10,417.11 L952.10,418.15 L953.10,419.20 L954.10,420.23 L955.10,421.26 L956.10,422.29 L957.10,423.31 L958.10,424.32 L959.10,425.33 L960.10,426.34 L961.10,427.33 L962.10,428.32 L963.10,429.30 L964.10,430.28 L965.10,431.25 L966.10,432.20 L967.10,433.15 L968.10,434.09 L969.10,435.02 L970.10,435.94 L971.10,436.85 L972.10,437.75 L973.10,438.63 L974.10,439.51 L975.10,440.37 L976.10,441.21 L977.10,442.04 L978.10,442.86 L979.10,443.66 L980.10,444.45 L981.10,445.22 L982.10,445.98 L983.10,446.71 L984.10,447.44 L985.10,448.14 L986.10,448.82 L987.10,449.49 L988.10,450.13 L989.10,450.76 L990.10,451.36 L991.10,451.95 L992.10,452.51 L993.10,453.05 L994.10,453.57 L995.10,454.07 L996.10,454.54 L997.10,454.99 L998.10,455.42 L999.10,455.81 L1000.10,456.19 L1001.10,456.54 L1002.10,456.86 L1003.10,457.16 L1004.10,457.42 L1005.10,457.66 L1006.10,457.88 L1007.10,458.06 L1008.10,458.21 L1009.10,458.34 L1010.10,458.43 L1011.10,458.49 L1012.10,458.53 L1013.10,458.53 L1014.10,458.49 L1015.10,458.43 L1016.10,458.33 L1017.10,458.21 L1018.10,458.05 L1019.10,457.86 L1020.10,457.64 L1021.10,457.39 L1022.10,457.11 L1023.10,456.80 L1024.10,456.46 L1025.10,456.09 L1026.10,455.70 L1027.10,455.27 L1028.10,454.82 L1029.10,454.34 L1030.10,453.83 L1031.10,453.30 L1032.10,452.74 L1033.10,452.15 L1034.10,451.53 L1035.10,450.89 L1036.10,450.23 L1037.10,449.54 L1038.10,448.82 L1039.10,448.08 L1040.10,447.32 L1041.10,446.53 L1042.10,445.71 L1043.10,444.88 L1044.10,444.02 L1045.10,443.14 L1046.10,442.23 L1047.10,441.30 L1048.10,440.36 L1049.10,439.39 L1050.10,438.39 L1051.10,437.38 L1052.10,436.35 L1053.10,435.29 L1054.10,434.22 L1055.10,433.13 L1056.10,432.01 L1057.10,430.88 L1058.10,429.73 L1059.10,428.56 L1060.10,427.37 L1061.10,426.17 L1062.10,424.95 L1063.10,423.71 L1064.10,422.45 L1065.10,421.18 L1066.10,419.89 L1067.10,418.58 L1068.10,417.26 L1069.10,415.93 L1070.10,414.58 L1071.10,413.22 L1072.10,411.85 L1073.10,410.46 L1074.10,409.07 L1075.10,407.66 L1076.10,406.25 L1077.10,404.83 L1078.10,403.40 L1079.10,401.96 L1080.10,400.51 L1081.10,399.06 L1082.10,397.60 L1083.10,396.14 L1084.10,394.67 L1085.10,393.20 L1086.10,391.73 L1087.10,390.25 L1088.10,388.77 L1089.10,387.29 L1090.10,385.81 L1091.10,384.33 L1092.10,382.86 L1093.10,381.38 L1094.10,379.91 L1095.10,378.43 L1096.10,376.97 L1097.10,375.50 L1098.10,374.04 L1099.10,372.59 L1100.10,371.14 L1101.10,369.70 L1102.10,368.26 L1103.10,366.84 L1104.10,365.42 L1105.10,364.01 L1106.10,362.62 L1107.10,361.23 L1108.10,359.85 L1109.10,358.49 L1110.10,357.14 L1111.10,355.80 L1112.10,354.47 L1113.10,353.16 L1114.10,351.87 L1115.10,350.59 L1116.10,349.33 L1117.10,348.08 L1118.10,346.86 L1119.10,345.65 L1120.10,344.46 L1121.10,343.29 L1122.10,342.14 L1123.10,341.01 L1124.10,339.90 L1125.10,338.81 L1126.10,337.75 L1127.10,336.71 L1128.10,335.70 L1129.10,334.71 L1130.10,333.75 L1131.10,332.81 L1132.10,331.90 L1133.10,331.02 L1134.10,330.16 L1135.10,329.33 L1136.10,328.53 L1137.10,327.76 L1138.10,327.02 L1139.10,326.31 L1140.10,325.63 L1141.10,324.98 L1142.10,324.37 L1143.10,323.78 L1144.10,323.23 L1145.10,322.71 L1146.10,322.22 L1147.10,321.77 L1148.10,321.35 L1149.10,320.97 L1150.10,320.62 L1151.10,320.31 L1152.10,320.04 L1153.10,319.80 L1154.10,319.60 L1155.10,319.44 L1156.10,319.32 L1157.10,319.23 L1158.10,319.19 L1159.10,319.19 L1160.10,319.22 L1161.10,319.30 L1162.10,319.42 L1163.10,319.58 L1164.10,319.78 L1165.10,320.03 L1166.10,320.32 L1167.10,320.65 L1168.10,321.03 L1169.10,321.45 L1170.10,321.92 L1171.10,322.43 L1172.10,323.00 L1173.10,323.60 L1174.10,324.26 L1175.10,324.96 L1176.10,325.71 L1177.10,326.51 L1178.10,327.36 L1179.10,328.26 L1180.10,329.22 L1181.10,330.22 L1182.10,331.27 L1182.90,332.15 L1229.0,332.1 L1229.0,311.6 L1278.6,311.6 L1280.6,309.8" fill="none" stroke="#1a71b8" stroke-width="4.0" stroke-linejoin="round" stroke-linecap="butt"/>
<text x="687.59" y="293.30" font-size="28.4" textLength="15.45" lengthAdjust="spacingAndGlyphs" fill="#000">1</text>
<text x="653.40" y="352.20" font-size="28.4" textLength="55.07" lengthAdjust="spacingAndGlyphs" fill="#000">0.95</text>
<text x="666.48" y="411.00" font-size="28.4" textLength="39.76" lengthAdjust="spacingAndGlyphs" fill="#000">0.9</text>
<text x="653.49" y="469.80" font-size="28.4" textLength="55.59" lengthAdjust="spacingAndGlyphs" fill="#000">0.85</text>
<text x="715.84" y="499.20" font-size="28.4" textLength="16.60" lengthAdjust="spacingAndGlyphs" fill="#000">0</text>
<text x="991.10" y="499.30" font-size="35.5" textLength="19.69" lengthAdjust="spacingAndGlyphs" font-style="italic" style="font-family:&quot;Liberation Serif&quot;,serif;stroke-width:0.1px" fill="#000">π</text>
<text x="1260.65" y="499.00" font-size="28.4" textLength="17.20" lengthAdjust="spacingAndGlyphs" fill="#000">2</text>
<text x="1276.13" y="499.30" font-size="35.5" textLength="17.28" lengthAdjust="spacingAndGlyphs" font-style="italic" style="font-family:&quot;Liberation Serif&quot;,serif;stroke-width:0.1px" fill="#000">π</text>
<text x="932.45" y="527.60" font-size="28.8" textLength="137.07" lengthAdjust="spacingAndGlyphs" fill="#000">Phase (rad)</text>
<text transform="translate(638.60,463.30) rotate(-90)" x="-0.63" y="0" font-size="28.8" textLength="181.51" lengthAdjust="spacingAndGlyphs" fill="#000">Transmittance</text>
<rect x="105.05" y="698.8" width="485.95" height="214.70000000000005" fill="none" stroke="#000" stroke-width="2"/>
<line x1="95.95" y1="698.8" x2="105.05" y2="698.8" stroke="#000" stroke-width="2" stroke-linecap="butt"/>
<line x1="95.95" y1="806.15" x2="105.05" y2="806.15" stroke="#000" stroke-width="2" stroke-linecap="butt"/>
<line x1="95.95" y1="913.5" x2="105.05" y2="913.5" stroke="#000" stroke-width="2" stroke-linecap="butt"/>
<line x1="105.05" y1="913.5" x2="105.05" y2="922.3" stroke="#000" stroke-width="2" stroke-linecap="butt"/>
<line x1="337.75" y1="913.5" x2="337.75" y2="922.3" stroke="#000" stroke-width="2" stroke-linecap="butt"/>
<line x1="570.45" y1="913.5" x2="570.45" y2="922.3" stroke="#000" stroke-width="2" stroke-linecap="butt"/>
<path d="M105.40,799.54 L106.40,799.56 L107.40,799.57 L108.40,799.59 L109.40,799.60 L110.40,799.62 L111.40,799.63 L112.40,799.64 L113.40,799.66 L114.40,799.67 L115.40,799.69 L116.40,799.70 L117.40,799.72 L118.40,799.73 L119.40,799.75 L120.40,799.76 L121.40,799.77 L122.40,799.79 L123.40,799.80 L124.40,799.82 L125.40,799.83 L126.40,799.84 L127.40,799.86 L128.40,799.87 L129.40,799.89 L130.40,799.90 L131.40,799.92 L132.40,799.93 L133.40,799.94 L134.40,799.96 L135.40,799.97 L136.40,799.99 L137.40,800.00 L138.40,800.02 L139.40,800.03 L140.40,800.04 L141.40,800.06 L142.40,800.07 L143.40,800.09 L144.40,800.10 L145.40,800.12 L146.40,800.13 L147.40,800.15 L148.40,800.16 L149.40,800.18 L150.40,800.20 L151.40,800.21 L152.40,800.23 L153.40,800.24 L154.40,800.26 L155.40,800.28 L156.40,800.29 L157.40,800.31 L158.40,800.33 L159.40,800.34 L160.40,800.36 L161.40,800.38 L162.40,800.40 L163.40,800.41 L164.40,800.43 L165.40,800.45 L166.40,800.47 L167.40,800.49 L168.40,800.51 L169.40,800.53 L170.40,800.54 L171.40,800.56 L172.40,800.58 L173.40,800.60 L174.40,800.62 L175.40,800.65 L176.40,800.67 L177.40,800.69 L178.40,800.71 L179.40,800.73 L180.40,800.75 L181.40,800.77 L182.40,800.80 L183.40,800.82 L184.40,800.84 L185.40,800.87 L186.40,800.89 L187.40,800.91 L188.40,800.94 L189.40,800.96 L190.40,800.99 L191.40,801.02 L192.40,801.04 L193.40,801.07 L194.40,801.09 L195.40,801.12 L196.40,801.15 L197.40,801.18 L198.40,801.20 L199.40,801.23 L200.40,801.26 L201.40,801.29 L202.40,801.32 L203.40,801.35 L204.40,801.38 L205.40,801.41 L206.40,801.44 L207.40,801.48 L208.40,801.51 L209.40,801.54 L210.40,801.57 L211.40,801.61 L212.40,801.64 L213.40,801.68 L214.40,801.71 L215.40,801.75 L216.40,801.78 L217.40,801.82 L218.40,801.86 L219.40,801.90 L220.40,801.93 L221.40,801.97 L222.40,802.01 L223.40,802.05 L224.40,802.09 L225.40,802.13 L226.40,802.17 L227.40,802.22 L228.40,802.26 L229.40,802.30 L230.40,802.34 L231.40,802.39 L232.40,802.43 L233.40,802.48 L234.40,802.52 L235.40,802.57 L236.40,802.62 L237.40,802.66 L238.40,802.71 L239.40,802.76 L240.40,802.81 L241.40,802.86 L242.40,802.91 L243.40,802.96 L244.40,803.02 L245.40,803.07 L246.40,803.12 L247.40,803.18 L248.40,803.23 L249.40,803.28 L250.40,803.34 L251.40,803.40 L252.40,803.45 L253.40,803.51 L254.40,803.57 L255.40,803.63 L256.40,803.69 L257.40,803.75 L258.40,803.81 L259.40,803.88 L260.40,803.94 L261.40,804.00 L262.40,804.07 L263.40,804.13 L264.40,804.20 L265.40,804.26 L266.40,804.33 L267.40,804.40 L268.40,804.47 L269.40,804.54 L270.40,804.61 L271.40,804.68 L272.40,804.75 L273.40,804.82 L274.40,804.90 L275.40,804.97 L276.40,805.05 L277.40,805.12 L278.40,805.20 L279.40,805.28 L280.40,805.36 L281.40,805.44 L282.40,805.52 L283.40,805.60 L284.40,805.68 L285.40,805.76 L286.40,805.85 L287.40,805.93 L288.40,806.02 L289.40,806.10 L290.40,806.19 L291.40,806.28 L292.40,806.37 L293.40,806.46 L294.40,806.55 L295.40,806.64 L296.40,806.73 L297.40,806.83 L298.40,806.92 L299.40,807.02 L300.40,807.11 L301.40,807.21 L302.40,807.31 L303.40,807.41 L304.40,807.51 L305.40,807.61 L306.40,807.71 L307.40,807.82 L308.40,807.92 L309.40,808.03 L310.40,808.13 L311.40,808.24 L312.40,808.35 L313.40,808.46 L314.40,808.57 L315.40,808.68 L316.40,808.79 L317.40,808.90 L318.40,809.02 L319.40,809.13 L320.40,809.25 L321.40,809.37 L322.40,809.49 L323.40,809.61 L324.40,809.73 L325.40,809.85 L326.40,809.97 L327.40,810.10 L328.40,810.22 L329.40,810.35 L330.40,810.47 L331.40,810.60 L332.40,810.73 L333.40,810.86 L334.40,811.00 L335.40,811.13 L336.40,811.26 L337.40,811.40 L338.40,811.53 L339.40,811.67 L340.40,811.81 L341.40,811.95 L342.40,812.09 L343.40,812.23 L344.40,812.38 L345.40,812.52 L346.40,812.67 L347.40,812.81 L348.40,812.96 L349.40,813.11 L350.40,813.26 L351.40,813.42 L352.40,813.57 L353.40,813.72 L354.40,813.88 L355.40,814.04 L356.40,814.19 L357.40,814.35 L358.40,814.51 L359.40,814.68 L360.40,814.84 L361.40,815.00 L362.40,815.17 L363.40,815.34 L364.40,815.50 L365.40,815.67 L366.40,815.84 L367.40,816.02 L368.40,816.19 L369.40,816.36 L370.40,816.54 L371.40,816.72 L372.40,816.90 L373.40,817.08 L374.40,817.26 L375.40,817.44 L376.40,817.63 L377.40,817.81 L378.40,818.00 L379.40,818.19 L380.40,818.38 L381.40,818.57 L382.40,818.76 L383.40,818.95 L384.40,819.15 L385.40,819.35 L386.40,819.54 L387.40,819.74 L388.40,819.95 L389.40,820.15 L390.40,820.35 L391.40,820.56 L392.40,820.76 L393.40,820.97 L394.40,821.18 L395.40,821.39 L396.40,821.60 L397.40,821.81 L398.40,822.03 L399.40,822.24 L400.40,822.45 L401.40,822.67 L402.40,822.89 L403.40,823.10 L404.40,823.32 L405.40,823.54 L406.40,823.76 L407.40,823.98 L408.40,824.20 L409.40,824.42 L410.40,824.64 L411.40,824.87 L412.40,825.09 L413.40,825.31 L414.40,825.53 L415.40,825.76 L416.40,825.98 L417.40,826.20 L418.40,826.43 L419.40,826.65 L420.40,826.87 L421.40,827.09 L422.40,827.32 L423.40,827.54 L424.40,827.76 L425.40,827.98 L426.40,828.21 L427.40,828.43 L428.40,828.65 L429.40,828.87 L430.40,829.09 L431.40,829.31 L432.40,829.53 L433.40,829.74 L434.40,829.96 L435.40,830.18 L436.40,830.39 L437.40,830.61 L438.40,830.82 L439.40,831.04 L440.40,831.25 L441.40,831.46 L442.40,831.67 L443.40,831.88 L444.40,832.08 L445.40,832.29 L446.40,832.50 L447.40,832.70 L448.40,832.90 L449.40,833.10 L450.40,833.30 L451.40,833.50 L452.40,833.69 L453.40,833.89 L454.40,834.08 L455.40,834.27 L456.40,834.46 L457.40,834.65 L458.40,834.83 L459.40,835.02 L460.40,835.20 L461.40,835.38 L462.40,835.56 L463.40,835.73 L464.40,835.90 L465.40,836.08 L466.40,836.24 L467.40,836.41 L468.40,836.57 L469.40,836.74 L470.40,836.89 L471.40,837.05 L472.40,837.21 L473.40,837.36 L474.40,837.51 L475.40,837.65 L476.40,837.79 L477.40,837.94 L478.40,838.07 L479.40,838.21 L480.40,838.34 L481.40,838.47 L482.40,838.59 L483.40,838.72 L484.40,838.84 L485.40,838.95 L486.40,839.07 L487.40,839.18 L488.40,839.28 L489.40,839.39 L490.40,839.49 L491.40,839.58 L492.40,839.68 L493.40,839.77 L494.40,839.85 L495.40,839.93 L496.40,840.01 L497.40,840.09 L498.40,840.16 L499.40,840.22 L500.40,840.29 L501.40,840.35 L502.40,840.40 L503.40,840.45 L504.40,840.50 L505.40,840.54 L506.40,840.58 L507.40,840.62 L508.40,840.65 L509.40,840.67 L510.40,840.69 L511.40,840.71 L512.40,840.72 L513.40,840.73 L514.40,840.73 L515.40,840.73 L516.40,840.73 L517.40,840.72 L518.40,840.70 L519.40,840.68 L520.40,840.66 L520.60,840.65 L521.0,839.8 L522.2,797.9 L544.3,798.2 L569.7,799.0 L590.6,799.7" fill="none" stroke="#1a71b8" stroke-width="4.0" stroke-linejoin="round" stroke-linecap="butt"/>
<path d="M105.40,804.15 L106.40,803.96 L107.40,803.78 L108.40,803.59 L109.40,803.41 L110.40,803.23 L111.40,803.05 L112.40,802.87 L113.40,802.69 L114.40,802.51 L115.40,802.33 L116.40,802.15 L117.40,801.97 L118.40,801.79 L119.40,801.62 L120.40,801.44 L121.40,801.27 L122.40,801.09 L123.40,800.92 L124.40,800.75 L125.40,800.58 L126.40,800.40 L127.40,800.23 L128.40,800.06 L129.40,799.89 L130.40,799.73 L131.40,799.56 L132.40,799.39 L133.40,799.22 L134.40,799.06 L135.40,798.89 L136.40,798.73 L137.40,798.57 L138.40,798.40 L139.40,798.24 L140.40,798.08 L141.40,797.92 L142.40,797.76 L143.40,797.60 L144.40,797.44 L145.40,797.28 L146.40,797.13 L147.40,796.97 L148.40,796.81 L149.40,796.66 L150.40,796.51 L151.40,796.35 L152.40,796.20 L153.40,796.05 L154.40,795.90 L155.40,795.75 L156.40,795.60 L157.40,795.45 L158.40,795.30 L159.40,795.15 L160.40,795.00 L161.40,794.86 L162.40,794.71 L163.40,794.57 L164.40,794.42 L165.40,794.28 L166.40,794.14 L167.40,794.00 L168.40,793.85 L169.40,793.71 L170.40,793.57 L171.40,793.44 L172.40,793.30 L173.40,793.16 L174.40,793.02 L175.40,792.89 L176.40,792.75 L177.40,792.62 L178.40,792.49 L179.40,792.35 L180.40,792.22 L181.40,792.09 L182.40,791.96 L183.40,791.83 L184.40,791.70 L185.40,791.57 L186.40,791.44 L187.40,791.32 L188.40,791.19 L189.40,791.07 L190.40,790.94 L191.40,790.82 L192.40,790.69 L193.40,790.57 L194.40,790.45 L195.40,790.33 L196.40,790.21 L197.40,790.09 L198.40,789.97 L199.40,789.86 L200.40,789.74 L201.40,789.62 L202.40,789.51 L203.40,789.39 L204.40,789.28 L205.40,789.17 L206.40,789.05 L207.40,788.94 L208.40,788.83 L209.40,788.72 L210.40,788.61 L211.40,788.50 L212.40,788.40 L213.40,788.29 L214.40,788.18 L215.40,788.08 L216.40,787.97 L217.40,787.87 L218.40,787.77 L219.40,787.67 L220.40,787.56 L221.40,787.46 L222.40,787.36 L223.40,787.27 L224.40,787.17 L225.40,787.07 L226.40,786.97 L227.40,786.88 L228.40,786.78 L229.40,786.69 L230.40,786.60 L231.40,786.50 L232.40,786.41 L233.40,786.32 L234.40,786.23 L235.40,786.14 L236.40,786.05 L237.40,785.96 L238.40,785.88 L239.40,785.79 L240.40,785.71 L241.40,785.62 L242.40,785.54 L243.40,785.45 L244.40,785.37 L245.40,785.29 L246.40,785.21 L247.40,785.13 L248.40,785.05 L249.40,784.97 L250.40,784.90 L251.40,784.82 L252.40,784.74 L253.40,784.67 L254.40,784.60 L255.40,784.52 L256.40,784.45 L257.40,784.38 L258.40,784.31 L259.40,784.24 L260.40,784.17 L261.40,784.10 L262.40,784.03 L263.40,783.97 L264.40,783.90 L265.40,783.84 L266.40,783.77 L267.40,783.71 L268.40,783.65 L269.40,783.59 L270.40,783.52 L271.40,783.46 L272.40,783.41 L273.40,783.35 L274.40,783.29 L275.40,783.23 L276.40,783.18 L277.40,783.12 L278.40,783.07 L279.40,783.02 L280.40,782.96 L281.40,782.91 L282.40,782.86 L283.40,782.81 L284.40,782.76 L285.40,782.71 L286.40,782.67 L287.40,782.62 L288.40,782.57 L289.40,782.53 L290.40,782.49 L291.40,782.44 L292.40,782.40 L293.40,782.36 L294.40,782.32 L295.40,782.28 L296.40,782.24 L297.40,782.20 L298.40,782.16 L299.40,782.13 L300.40,782.09 L301.40,782.06 L302.40,782.03 L303.40,781.99 L304.40,781.96 L305.40,781.93 L306.40,781.90 L307.40,781.87 L308.40,781.84 L309.40,781.81 L310.40,781.79 L311.40,781.76 L312.40,781.74 L313.40,781.71 L314.40,781.69 L315.40,781.67 L316.40,781.65 L317.40,781.62 L318.40,781.60 L319.40,781.59 L320.40,781.57 L321.40,781.55 L322.40,781.53 L323.40,781.52 L324.40,781.50 L325.40,781.49 L326.40,781.48 L327.40,781.47 L328.40,781.46 L329.40,781.45 L330.40,781.44 L331.40,781.43 L332.40,781.42 L333.40,781.41 L334.40,781.41 L335.40,781.40 L336.40,781.40 L337.40,781.40 L338.40,781.40 L339.40,781.39 L340.40,781.39 L341.40,781.40 L342.40,781.40 L343.40,781.40 L344.40,781.40 L345.40,781.41 L346.40,781.41 L347.40,781.42 L348.40,781.42 L349.40,781.43 L350.40,781.44 L351.40,781.45 L352.40,781.46 L353.40,781.47 L354.40,781.49 L355.40,781.50 L356.40,781.51 L357.40,781.53 L358.40,781.54 L359.40,781.56 L360.40,781.58 L361.40,781.60 L362.40,781.62 L363.40,781.64 L364.40,781.66 L365.40,781.68 L366.40,781.71 L367.40,781.73 L368.40,781.76 L369.40,781.78 L370.40,781.81 L371.40,781.84 L372.40,781.87 L373.40,781.90 L374.40,781.93 L375.40,781.96 L376.40,781.99 L377.40,782.02 L378.40,782.06 L379.40,782.09 L380.40,782.13 L381.40,782.17 L382.40,782.21 L383.40,782.25 L384.40,782.29 L385.40,782.33 L386.40,782.37 L387.40,782.41 L388.40,782.46 L389.40,782.50 L390.40,782.55 L391.40,782.59 L392.40,782.64 L393.40,782.69 L394.40,782.74 L395.40,782.79 L396.40,782.84 L397.40,782.89 L398.40,782.95 L399.40,783.00 L400.40,783.06 L401.40,783.11 L402.40,783.17 L403.40,783.23 L404.40,783.29 L405.40,783.35 L406.40,783.41 L407.40,783.47 L408.40,783.53 L409.40,783.60 L410.40,783.66 L411.40,783.73 L412.40,783.79 L413.40,783.86 L414.40,783.93 L415.40,784.00 L416.40,784.07 L417.40,784.14 L418.40,784.21 L419.40,784.29 L420.40,784.36 L421.40,784.44 L422.40,784.51 L423.40,784.59 L424.40,784.67 L425.40,784.75 L426.40,784.83 L427.40,784.91 L428.40,784.99 L429.40,785.07 L430.40,785.16 L431.40,785.24 L432.40,785.33 L433.40,785.42 L434.40,785.51 L435.40,785.59 L436.40,785.68 L437.40,785.78 L438.40,785.87 L439.40,785.96 L440.40,786.05 L441.40,786.15 L442.40,786.25 L443.40,786.34 L444.40,786.44 L445.40,786.54 L446.40,786.64 L447.40,786.74 L448.40,786.84 L449.40,786.94 L450.40,787.05 L451.40,787.15 L452.40,787.26 L453.40,787.37 L454.40,787.47 L455.40,787.58 L456.40,787.69 L457.00,787.76 L462.4,789.4 L471.7,792.7 L480.9,795.9 L490,799.1 L502,802.8 L512,806.6 L521.3,811.2 L535.8,810.6 L552.8,808.9 L569.7,806.9 L590.6,804.4" fill="none" stroke="#e2232a" stroke-width="4.0" stroke-linejoin="round" stroke-linecap="butt"/>
<text x="41.84" y="710.30" font-size="28.4" textLength="47.35" lengthAdjust="spacingAndGlyphs" fill="#000">100</text>
<text x="57.13" y="813.70" font-size="28.4" textLength="31.95" lengthAdjust="spacingAndGlyphs" fill="#000">75</text>
<text x="57.47" y="921.20" font-size="28.4" textLength="31.52" lengthAdjust="spacingAndGlyphs" fill="#000">50</text>
<text x="95.58" y="952.90" font-size="28.4" textLength="16.02" lengthAdjust="spacingAndGlyphs" fill="#000">0</text>
<text x="316.73" y="953.10" font-size="28.4" textLength="38.26" lengthAdjust="spacingAndGlyphs" fill="#000">0.3</text>
<text x="547.89" y="953.10" font-size="28.4" textLength="39.54" lengthAdjust="spacingAndGlyphs" fill="#000">0.6</text>
<text x="334.82" y="984.30" font-size="28.8" textLength="60.78" lengthAdjust="spacingAndGlyphs" fill="#000">(rad)</text>
<text x="320.09" y="993.50" font-size="19" textLength="11.99" lengthAdjust="spacingAndGlyphs" fill="#000">g</text>
<text transform="translate(23.10,893.30) rotate(-90)" x="-2.26" y="0" font-size="28.8" textLength="181.98" lengthAdjust="spacingAndGlyphs" fill="#000">Efficiecncy (%)</text>
<ellipse cx="310.6" cy="975.4" rx="9.6" ry="8.4" fill="none" stroke="#000" stroke-width="2.1"/>
<line x1="314.2" y1="957.0" x2="306.2" y2="991.5" stroke="#000" stroke-width="1.9" stroke-linecap="butt"/>
<rect x="477.5" y="706.6" width="105.7" height="81.8" fill="#fff" stroke="#000" stroke-width="2"/>
<line x1="490" y1="730.4" x2="525" y2="730.4" stroke="#1a71b8" stroke-width="4.0" stroke-linecap="butt"/>
<line x1="490" y1="764.8" x2="525" y2="764.8" stroke="#e2232a" stroke-width="4.0" stroke-linecap="butt"/>
<text x="528.89" y="740.40" font-size="28.8" textLength="29.79" lengthAdjust="spacingAndGlyphs" fill="#000">TE</text>
<text x="528.76" y="774.40" font-size="28.8" textLength="41.70" lengthAdjust="spacingAndGlyphs" fill="#000">TM</text>
<rect x="752.95" y="561.9" width="510.45000000000005" height="357.1" fill="none" stroke="#000" stroke-width="2"/>
<line x1="744.35" y1="561.9" x2="752.95" y2="561.9" stroke="#000" stroke-width="2" stroke-linecap="butt"/>
<line x1="744.35" y1="626.3" x2="752.95" y2="626.3" stroke="#000" stroke-width="2" stroke-linecap="butt"/>
<line x1="744.35" y1="691.3" x2="752.95" y2="691.3" stroke="#000" stroke-width="2" stroke-linecap="butt"/>
<line x1="744.35" y1="756.0" x2="752.95" y2="756.0" stroke="#000" stroke-width="2" stroke-linecap="butt"/>
<line x1="744.35" y1="820.6" x2="752.95" y2="820.6" stroke="#000" stroke-width="2" stroke-linecap="butt"/>
<line x1="744.35" y1="885.5" x2="752.95" y2="885.5" stroke="#000" stroke-width="2" stroke-linecap="butt"/>
<line x1="752.95" y1="919.0" x2="752.95" y2="927.4" stroke="#000" stroke-width="2" stroke-linecap="butt"/>
<line x1="910.2" y1="919.0" x2="910.2" y2="927.4" stroke="#000" stroke-width="2" stroke-linecap="butt"/>
<line x1="1067.0" y1="919.0" x2="1067.0" y2="927.4" stroke="#000" stroke-width="2" stroke-linecap="butt"/>
<line x1="1224.0" y1="919.0" x2="1224.0" y2="927.4" stroke="#000" stroke-width="2" stroke-linecap="butt"/>
<path d="M753.00,583.74 L755.00,584.12 L757.00,584.52 L759.00,584.93 L761.00,585.36 L763.00,585.80 L765.00,586.25 L767.00,586.72 L769.00,587.20 L771.00,587.70 L773.00,588.20 L775.00,588.73 L777.00,589.26 L779.00,589.81 L781.00,590.38 L783.00,590.95 L785.00,591.55 L787.00,592.15 L789.00,592.77 L791.00,593.40 L793.00,594.05 L795.00,594.71 L797.00,595.38 L799.00,596.06 L801.00,596.76 L803.00,597.48 L805.00,598.21 L807.00,598.95 L809.00,599.70 L811.00,600.47 L813.00,601.25 L815.00,602.04 L817.00,602.85 L819.00,603.67 L821.00,604.51 L823.00,605.36 L825.00,606.22 L827.00,607.10 L829.00,607.98 L831.00,608.89 L833.00,609.80 L835.00,610.73 L837.00,611.67 L839.00,612.63 L841.00,613.60 L843.00,614.58 L845.00,615.58 L847.00,616.58 L849.00,617.61 L851.00,618.64 L853.00,619.69 L855.00,620.75 L857.00,621.83 L859.00,622.91 L861.00,624.02 L863.00,625.13 L865.00,626.26 L867.00,627.40 L869.00,628.55 L871.00,629.72 L873.00,630.90 L875.00,632.09 L877.00,633.30 L879.00,634.52 L881.00,635.75 L883.00,637.00 L885.00,638.26 L887.00,639.53 L889.00,640.81 L891.00,642.11 L893.00,643.42 L895.00,644.74 L897.00,646.08 L899.00,647.43 L901.00,648.79 L903.00,650.17 L905.00,651.56 L907.00,652.96 L909.00,654.37 L911.00,655.80 L913.00,657.24 L915.00,658.69 L917.00,660.16 L919.00,661.63 L921.00,663.12 L923.00,664.63 L925.00,666.14 L927.00,667.67 L929.00,669.22 L931.00,670.77 L933.00,672.34 L935.00,673.92 L937.00,675.51 L939.00,677.12 L941.00,678.73 L943.00,680.36 L945.00,682.01 L947.00,683.66 L949.00,685.33 L951.00,687.01 L953.00,688.71 L955.00,690.41 L957.00,692.13 L959.00,693.87 L961.00,695.61 L963.00,697.37 L965.00,699.14 L967.00,700.92 L969.00,702.71 L971.00,704.52 L973.00,706.34 L975.00,708.17 L977.00,710.01 L979.00,711.87 L981.00,713.75 L983.00,715.64 L985.00,717.55 L987.00,719.47 L989.00,721.41 L991.00,723.37 L993.00,725.35 L995.00,727.35 L997.00,729.37 L999.00,731.42 L1001.00,733.48 L1003.00,735.57 L1005.00,737.68 L1007.00,739.81 L1009.00,741.97 L1011.00,744.16 L1013.00,746.37 L1015.00,748.62 L1017.00,750.88 L1019.00,753.18 L1021.00,755.51 L1023.00,757.86 L1025.00,760.25 L1027.00,762.66 L1029.00,765.09 L1031.00,767.55 L1033.00,770.03 L1035.00,772.52 L1037.00,775.04 L1039.00,777.57 L1041.00,780.11 L1043.00,782.67 L1045.00,785.24 L1047.00,787.82 L1049.00,790.41 L1051.00,793.00 L1053.00,795.60 L1055.00,798.20 L1057.00,800.80 L1059.00,803.41 L1061.00,806.01 L1063.00,808.62 L1065.00,811.23 L1067.00,813.85 L1069.00,816.47 L1071.00,819.10 L1073.00,821.73 L1075.00,824.37 L1077.00,827.02 L1079.00,829.68 L1081.00,832.35 L1083.00,835.03 L1085.00,837.72 L1087.00,840.42 L1089.00,843.14 L1091.00,845.87 L1093.00,848.62 L1095.00,851.39 L1097.00,854.17 L1099.00,856.96 L1101.00,859.78 L1103.00,862.62 L1105.00,865.48 L1107.00,868.35 L1109.00,871.25 L1111.00,874.18 L1113.00,877.12 L1115.00,880.10 L1117.00,883.09 L1119.00,886.12 L1121.00,889.17 L1123.00,892.24 L1125.00,895.35 L1127.00,898.49 L1129.00,901.65 L1131.00,904.85 L1133.00,908.08 L1135.00,911.35 L1137.00,914.65 L1139.00,917.98 L1139.30,918.48" fill="none" stroke="#be1e2d" stroke-width="3.0" stroke-linejoin="round" stroke-linecap="butt"/>
<path d="M753.10,609.63 L755.10,610.00 L757.10,610.37 L759.10,610.74 L761.10,611.12 L763.10,611.50 L765.10,611.87 L767.10,612.26 L769.10,612.64 L771.10,613.03 L773.10,613.41 L775.10,613.80 L777.10,614.20 L779.10,614.59 L781.10,614.99 L783.10,615.38 L785.10,615.79 L787.10,616.19 L789.10,616.59 L791.10,617.00 L793.10,617.41 L795.10,617.82 L797.10,618.23 L799.10,618.65 L801.10,619.06 L803.10,619.48 L805.10,619.90 L807.10,620.33 L809.10,620.75 L811.10,621.18 L813.10,621.61 L815.10,622.04 L817.10,622.47 L819.10,622.91 L821.10,623.35 L823.10,623.79 L825.10,624.23 L827.10,624.67 L829.10,625.12 L831.10,625.57 L833.10,626.02 L835.10,626.47 L837.10,626.93 L839.10,627.38 L841.10,627.84 L843.10,628.30 L845.10,628.76 L847.10,629.23 L849.10,629.70 L851.10,630.17 L853.10,630.64 L855.10,631.11 L857.10,631.59 L859.10,632.06 L861.10,632.54 L863.10,633.02 L865.10,633.51 L867.10,633.99 L869.10,634.48 L871.10,634.97 L873.10,635.46 L875.10,635.96 L877.10,636.45 L879.10,636.95 L881.10,637.45 L883.10,637.95 L885.10,638.46 L887.10,638.97 L889.10,639.47 L891.10,639.98 L893.10,640.50 L895.10,641.01 L897.10,641.53 L899.10,642.05 L901.10,642.57 L903.10,643.09 L905.10,643.62 L907.10,644.14 L909.10,644.67 L911.10,645.21 L913.10,645.74 L915.10,646.27 L917.10,646.81 L919.10,647.35 L921.10,647.89 L923.10,648.44 L925.10,648.98 L927.10,649.53 L929.10,650.08 L931.10,650.64 L933.10,651.19 L935.10,651.75 L937.10,652.30 L939.10,652.87 L941.10,653.43 L943.10,653.99 L945.10,654.56 L947.10,655.13 L949.10,655.70 L951.10,656.27 L953.10,656.85 L955.10,657.43 L957.10,658.00 L959.10,658.59 L961.10,659.17 L963.10,659.75 L965.10,660.34 L967.10,660.93 L969.10,661.52 L971.10,662.12 L973.10,662.71 L975.10,663.31 L977.10,663.91 L979.10,664.51 L981.10,665.12 L983.10,665.73 L985.10,666.33 L987.10,666.94 L989.10,667.56 L991.10,668.17 L993.10,668.79 L995.10,669.41 L997.10,670.03 L999.10,670.65 L1001.10,671.28 L1003.10,671.90 L1005.10,672.53 L1007.10,673.16 L1009.10,673.80 L1011.10,674.43 L1013.10,675.07 L1015.10,675.71 L1017.10,676.35 L1019.10,677.00 L1021.10,677.64 L1023.10,678.29 L1025.10,678.94 L1027.10,679.59 L1029.10,680.25 L1031.10,680.90 L1033.10,681.56 L1035.10,682.22 L1037.10,682.88 L1039.10,683.55 L1041.10,684.22 L1043.10,684.89 L1045.10,685.56 L1047.10,686.23 L1049.10,686.90 L1051.10,687.58 L1053.10,688.26 L1055.10,688.94 L1057.10,689.63 L1059.10,690.31 L1061.10,691.00 L1063.10,691.69 L1065.10,692.38 L1067.10,693.07 L1069.10,693.77 L1071.10,694.47 L1073.10,695.17 L1075.10,695.87 L1077.10,696.57 L1079.10,697.28 L1081.10,697.99 L1083.10,698.70 L1085.10,699.41 L1087.10,700.13 L1089.10,700.84 L1091.10,701.56 L1093.10,702.28 L1095.10,703.01 L1097.10,703.73 L1099.10,704.46 L1101.10,705.19 L1103.10,705.92 L1105.10,706.65 L1107.10,707.39 L1109.10,708.12 L1111.10,708.86 L1113.10,709.61 L1115.10,710.35 L1117.10,711.09 L1119.10,711.84 L1121.10,712.59 L1123.10,713.34 L1125.10,714.10 L1127.10,714.85 L1129.10,715.61 L1131.10,716.37 L1133.10,717.14 L1135.10,717.90 L1137.10,718.67 L1139.10,719.44 L1141.10,720.21 L1143.10,720.98 L1145.10,721.75 L1147.10,722.53 L1149.10,723.31 L1151.10,724.09 L1153.10,724.88 L1155.10,725.66 L1157.10,726.45 L1159.10,727.24 L1161.10,728.03 L1163.10,728.82 L1165.10,729.62 L1167.10,730.42 L1169.10,731.22 L1171.10,732.02 L1173.10,732.82 L1175.10,733.63 L1177.10,734.44 L1179.10,735.25 L1181.10,736.06 L1183.10,736.87 L1185.10,737.69 L1187.10,738.51 L1189.10,739.33 L1191.10,740.15 L1193.10,740.98 L1195.10,741.80 L1197.10,742.63 L1199.10,743.46 L1201.10,744.30 L1203.10,745.13 L1205.10,745.97 L1207.10,746.81 L1209.10,747.65 L1211.10,748.50 L1213.10,749.34 L1215.10,750.19 L1217.10,751.04 L1219.10,751.89 L1221.10,752.74 L1223.10,753.60 L1225.10,754.46 L1227.10,755.32 L1229.10,756.18 L1231.10,757.05 L1233.10,757.91 L1235.10,758.78 L1237.10,759.65 L1239.10,760.52 L1241.10,761.40 L1243.10,762.28 L1245.10,763.16 L1247.10,764.04 L1249.10,764.92 L1251.10,765.80 L1253.10,766.69 L1255.10,767.58 L1257.10,768.47 L1259.10,769.37 L1261.10,770.26" fill="none" stroke="#2e3192" stroke-width="3.0" stroke-linejoin="round" stroke-linecap="butt"/>
<circle cx="752.9" cy="584.1" r="7.15" fill="#e2232a"/>
<circle cx="856.2" cy="628.6" r="7.15" fill="#e2232a"/>
<circle cx="883.0" cy="642.9" r="7.15" fill="#e2232a"/>
<circle cx="902.3" cy="648.8" r="7.15" fill="#e2232a"/>
<circle cx="928.6" cy="656.9" r="7.15" fill="#e2232a"/>
<circle cx="966.4" cy="679.4" r="7.15" fill="#e2232a"/>
<circle cx="992.5" cy="708.2" r="7.15" fill="#e2232a"/>
<circle cx="1026.5" cy="801.8" r="7.15" fill="#e2232a"/>
<circle cx="1071.2" cy="852.5" r="7.15" fill="#e2232a"/>
<circle cx="1142.9" cy="890.6" r="7.15" fill="#e2232a"/>
<circle cx="752.7" cy="612.9" r="7.8" fill="#1a71b8"/>
<circle cx="871.3" cy="630.3" r="7.8" fill="#1a71b8"/>
<circle cx="885.0" cy="642.5" r="7.8" fill="#1a71b8"/>
<circle cx="902.3" cy="630.3" r="7.8" fill="#1a71b8"/>
<circle cx="924.9" cy="642.1" r="7.8" fill="#1a71b8"/>
<circle cx="955.5" cy="647.4" r="7.8" fill="#1a71b8"/>
<circle cx="1000.1" cy="678.3" r="7.8" fill="#1a71b8"/>
<circle cx="1073.1" cy="703.1" r="7.8" fill="#1a71b8"/>
<circle cx="1140.3" cy="723.7" r="7.8" fill="#1a71b8"/>
<circle cx="1228.6" cy="751.3" r="7.8" fill="#1a71b8"/>
<rect x="765.9" y="820.2" width="292.1" height="87.6" fill="#fff" stroke="#000" stroke-width="2"/>
<circle cx="787.7" cy="848.8" r="7.5" fill="#e2232a"/>
<circle cx="787.7" cy="883.4" r="7.5" fill="#1a71b8"/>
<text x="806.53" y="858.00" font-size="28.8" textLength="238.29" lengthAdjust="spacingAndGlyphs" fill="#000">First design (Fig. 1)</text>
<text x="806.00" y="892.30" font-size="28.8" textLength="243.50" lengthAdjust="spacingAndGlyphs" fill="#000">Grating avg. design</text>
<text x="682.15" y="570.40" font-size="28.4" textLength="47.24" lengthAdjust="spacingAndGlyphs" fill="#000">100</text>
<text x="695.08" y="635.30" font-size="28.4" textLength="32.03" lengthAdjust="spacingAndGlyphs" fill="#000">90</text>
<text x="695.17" y="700.00" font-size="28.4" textLength="31.93" lengthAdjust="spacingAndGlyphs" fill="#000">80</text>
<text x="694.92" y="765.00" font-size="28.4" textLength="32.18" lengthAdjust="spacingAndGlyphs" fill="#000">70</text>
<text x="694.95" y="829.60" font-size="28.4" textLength="32.15" lengthAdjust="spacingAndGlyphs" fill="#000">60</text>
<text x="695.47" y="894.40" font-size="28.4" textLength="31.52" lengthAdjust="spacingAndGlyphs" fill="#000">50</text>
<text x="745.96" y="957.00" font-size="28.4" textLength="16.26" lengthAdjust="spacingAndGlyphs" fill="#000">0</text>
<text x="896.61" y="957.30" font-size="28.4" textLength="30.85" lengthAdjust="spacingAndGlyphs" fill="#000">20</text>
<text x="1053.37" y="957.30" font-size="28.4" textLength="31.72" lengthAdjust="spacingAndGlyphs" fill="#000">40</text>
<text x="1210.44" y="957.30" font-size="28.4" textLength="32.37" lengthAdjust="spacingAndGlyphs" fill="#000">60</text>
<text x="847.65" y="993.10" font-size="28.8" textLength="322.34" lengthAdjust="spacingAndGlyphs" fill="#000">Deflection angle (degree)</text>
<text transform="translate(672.30,827.30) rotate(-90)" x="-2.35" y="0" font-size="28.8" textLength="174.33" lengthAdjust="spacingAndGlyphs" fill="#000">Efficiency (%)</text>
</svg></body></html>
